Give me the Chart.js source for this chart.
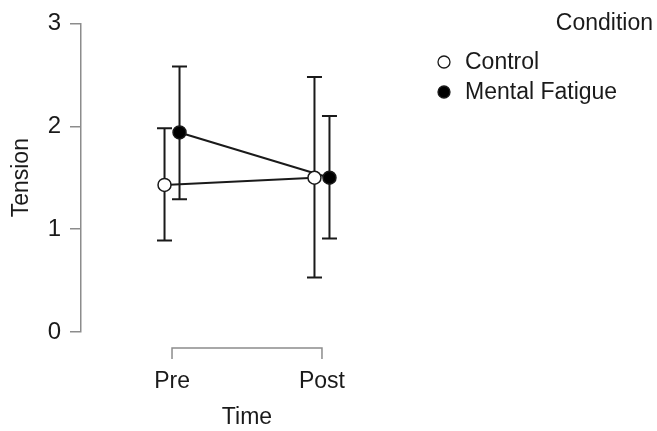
<!DOCTYPE html>
<html>
<head>
<meta charset="utf-8">
<script src="https://cdn.jsdelivr.net/npm/chart.js@4.4.1/dist/chart.umd.min.js"></script>
<style>
    html, body { margin: 0; padding: 0; background: #ffffff; }
    #chart_wrap { width: 657px; height: 431px; position: relative; }
</style>
</head>
<body>
<div id="chart_wrap"><canvas id="chart_tension"></canvas></div>
<script>
// values
const time_labels = ['Pre', 'Post'];
const condition_names = ['Control', 'Mental Fatigue'];
const control_mean = [1.43, 1.50];
const control_low = [0.89, 0.53];
const control_high = [1.98, 2.48];
const fatigue_mean = [1.94, 1.50];
const fatigue_low = [1.29, 0.91];
const fatigue_high = [2.58, 2.10];
const y_ticks = [0, 1, 2, 3];

const dodge = 0.05;
const font_family = '"Liberation Sans", Arial, sans-serif';
const axis_grey = '#8c8c8c';
const ink = '#1a1a1a';

function make_points(means, shift) {
    return means.map((v, i) => ({ x: i + shift, y: v }));
}

const error_bar_plugin = {
    id: 'error_bars',
    beforeDatasetsDraw(chart) {
        const ctx = chart.ctx;
        const x_scale = chart.scales.x;
        const y_scale = chart.scales.y;
        ctx.save();
        ctx.strokeStyle = ink;
        ctx.lineWidth = 2;
        chart.data.datasets.forEach((ds) => {
            ds.data.forEach((pt, i) => {
                const px = x_scale.getPixelForValue(pt.x);
                const top = y_scale.getPixelForValue(ds.err_high[i]);
                const bottom = y_scale.getPixelForValue(ds.err_low[i]);
                ctx.beginPath();
                ctx.moveTo(px, top);
                ctx.lineTo(px, bottom);
                ctx.moveTo(px - 7.5, top);
                ctx.lineTo(px + 7.5, top);
                ctx.moveTo(px - 7.5, bottom);
                ctx.lineTo(px + 7.5, bottom);
                ctx.stroke();
            });
        });
        ctx.restore();
    },
};

const range_frame_plugin = {
    id: 'range_frame',
    afterDraw(chart) {
        const ctx = chart.ctx;
        const x_scale = chart.scales.x;
        const area = chart.chartArea;
        const left = x_scale.getPixelForValue(0);
        const right = x_scale.getPixelForValue(time_labels.length - 1);
        const y = area.bottom + 16;
        ctx.save();
        ctx.strokeStyle = axis_grey;
        ctx.lineWidth = 1.5;
        ctx.beginPath();
        ctx.moveTo(left, y + 11);
        ctx.lineTo(left, y);
        ctx.lineTo(right, y);
        ctx.lineTo(right, y + 11);
        ctx.stroke();
        ctx.restore();
    },
};

const side_legend_plugin = {
    id: 'side_legend',
    afterDraw(chart) {
        const ctx = chart.ctx;
        ctx.save();
        ctx.font = '23px ' + font_family;
        ctx.fillStyle = ink;
        ctx.textBaseline = 'middle';
        ctx.textAlign = 'right';
        ctx.fillText('Condition', 653, 24);
        ctx.textAlign = 'left';
        chart.data.datasets.forEach((ds, i) => {
            const cy = 62 + i * 30;
            ctx.beginPath();
            ctx.arc(444, cy, 6, 0, Math.PI * 2);
            ctx.fillStyle = ds.pointBackgroundColor;
            ctx.fill();
            ctx.lineWidth = 1.3;
            ctx.strokeStyle = ink;
            ctx.stroke();
            ctx.fillStyle = ink;
            ctx.fillText(ds.label, 465, cy + 1);
        });
        ctx.restore();
    },
};

const ctx = document.getElementById('chart_tension').getContext('2d');
new Chart(ctx, {
    type: 'line',
    data: {
        datasets: [
            {
                label: condition_names[0],
                data: make_points(control_mean, -dodge),
                err_low: control_low,
                err_high: control_high,
                borderColor: ink,
                borderWidth: 2,
                pointBackgroundColor: '#ffffff',
                pointBorderColor: ink,
                pointBorderWidth: 1.5,
                pointRadius: 6.5,
                tension: 0,
            },
            {
                label: condition_names[1],
                data: make_points(fatigue_mean, dodge),
                err_low: fatigue_low,
                err_high: fatigue_high,
                borderColor: ink,
                borderWidth: 2,
                pointBackgroundColor: '#000000',
                pointBorderColor: ink,
                pointBorderWidth: 1.5,
                pointRadius: 6.5,
                tension: 0,
            },
        ],
    },
    options: {
        responsive: true,
        maintainAspectRatio: false,
        animation: false,
        layout: {
            padding: { top: 18, right: 244, bottom: 0, left: 0 },
        },
        plugins: {
            legend: { display: false },
            tooltip: { enabled: false },
        },
        scales: {
            x: {
                type: 'linear',
                min: -0.607,
                max: 1.607,
                afterBuildTicks: (scale) => {
                    scale.ticks = time_labels.map((_, i) => ({ value: i }));
                },
                afterFit: (scale) => {
                    scale.height = 99;
                },
                ticks: {
                    color: ink,
                    font: { family: font_family, size: 23 },
                    padding: 36,
                    maxRotation: 0,
                    callback: (value) => time_labels[value],
                },
                grid: { display: false, drawTicks: false },
                border: { display: false },
                title: {
                    display: true,
                    text: 'Time',
                    color: ink,
                    font: { family: font_family, size: 23 },
                    padding: { top: 0, bottom: 0 },
                },
            },
            y: {
                min: 0,
                max: 3,
                afterBuildTicks: (scale) => {
                    scale.ticks = y_ticks.map((v) => ({ value: v }));
                },
                afterFit: (scale) => {
                    scale.width = 81;
                },
                ticks: {
                    color: ink,
                    font: { family: font_family, size: 24 },
                    padding: 9,
                },
                grid: {
                    drawOnChartArea: false,
                    drawTicks: true,
                    tickLength: 11,
                    color: axis_grey,
                    lineWidth: 1.5,
                },
                border: { display: true, color: axis_grey, width: 1.5 },
                title: {
                    display: true,
                    text: 'Tension',
                    color: ink,
                    font: { family: font_family, size: 23 },
                    padding: { top: 8, bottom: 16 },
                },
            },
        },
    },
    plugins: [error_bar_plugin, range_frame_plugin, side_legend_plugin],
});
</script>
</body>
</html>
